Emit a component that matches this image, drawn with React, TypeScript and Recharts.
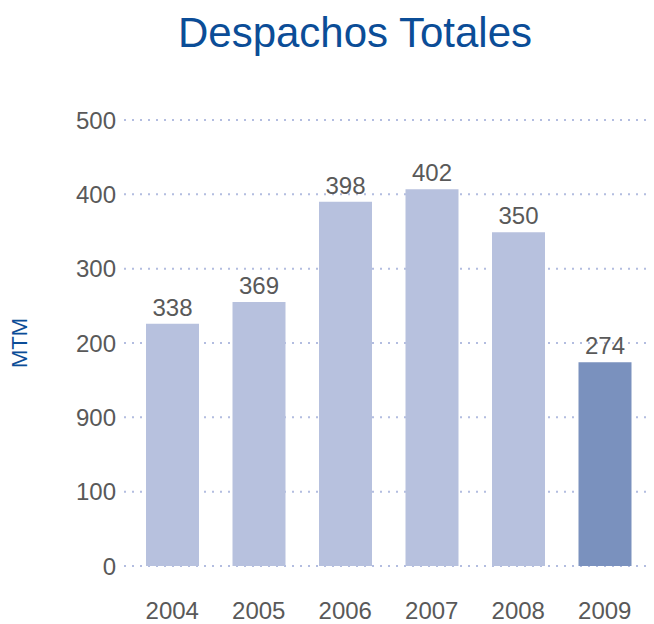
import React from "react";
import { BarChart, Bar, XAxis, YAxis, CartesianGrid, Cell, LabelList, Label } from "recharts";

const years = ["2004", "2005", "2006", "2007", "2008", "2009"];
const barHeights = [326, 355, 490, 507, 449, 274];
const barLabels = ["338", "369", "398", "402", "350", "274"];
const barColors = ["#b7c1de", "#b7c1de", "#b7c1de", "#b7c1de", "#b7c1de", "#7a91be"];
const tickValues = [0, 100, 200, 300, 400, 500, 600];
const tickLabels = ["0", "100", "900", "200", "300", "400", "500"];

const data = years.map((y, i) => ({ year: y, value: barHeights[i], label: barLabels[i] }));

const FONT = "'Liberation Sans', Arial, Helvetica, sans-serif";
const GREY = "#595959";

export default function App() {
  return (
    <div style={{ position: "absolute", left: 0, top: 0, width: 654, height: 624, fontFamily: FONT }}>
      <div
        style={{
          position: "absolute",
          left: 0,
          top: 8,
          width: 710,
          textAlign: "center",
          fontSize: 42,
          color: "#0b4d97",
          fontFamily: FONT,
          lineHeight: "50px",
        }}
      >
        Despachos Totales
      </div>
      <BarChart
        width={654}
        height={624}
        data={data}
        margin={{ top: 120, right: 2, bottom: 0, left: 0 }}
      >
        <CartesianGrid
          vertical={false}
          stroke="#b3bde0"
          strokeWidth={2}
          strokeDasharray="2 6"
        />
        <XAxis
          dataKey="year"
          axisLine={false}
          tickLine={false}
          tickMargin={30}
          height={58}
          padding={{ left: 5, right: 4 }}
          tick={{ fill: GREY, fontSize: 24, fontFamily: FONT }}
        />
        <YAxis
          type="number"
          domain={[0, 600]}
          ticks={tickValues}
          tickFormatter={(v: number) => tickLabels[tickValues.indexOf(v)]}
          axisLine={false}
          tickLine={false}
          width={124}
          interval={0}
          tick={{ fill: GREY, fontSize: 24, fontFamily: FONT }}
        >
          <Label
            value="MTM"
            angle={-90}
            position="insideLeft"
            offset={19}
            style={{ fill: "#0b4d97", fontSize: 22, fontFamily: FONT, textAnchor: "middle" }}
          />
        </YAxis>
        <Bar dataKey="value" barSize={53} isAnimationActive={false}>
          {data.map((d, i) => (
            <Cell key={d.year} fill={barColors[i]} />
          ))}
          <LabelList
            dataKey="label"
            position="top"
            offset={8}
            style={{ fill: GREY, fontSize: 24, fontFamily: FONT }}
          />
        </Bar>
      </BarChart>
    </div>
  );
}
